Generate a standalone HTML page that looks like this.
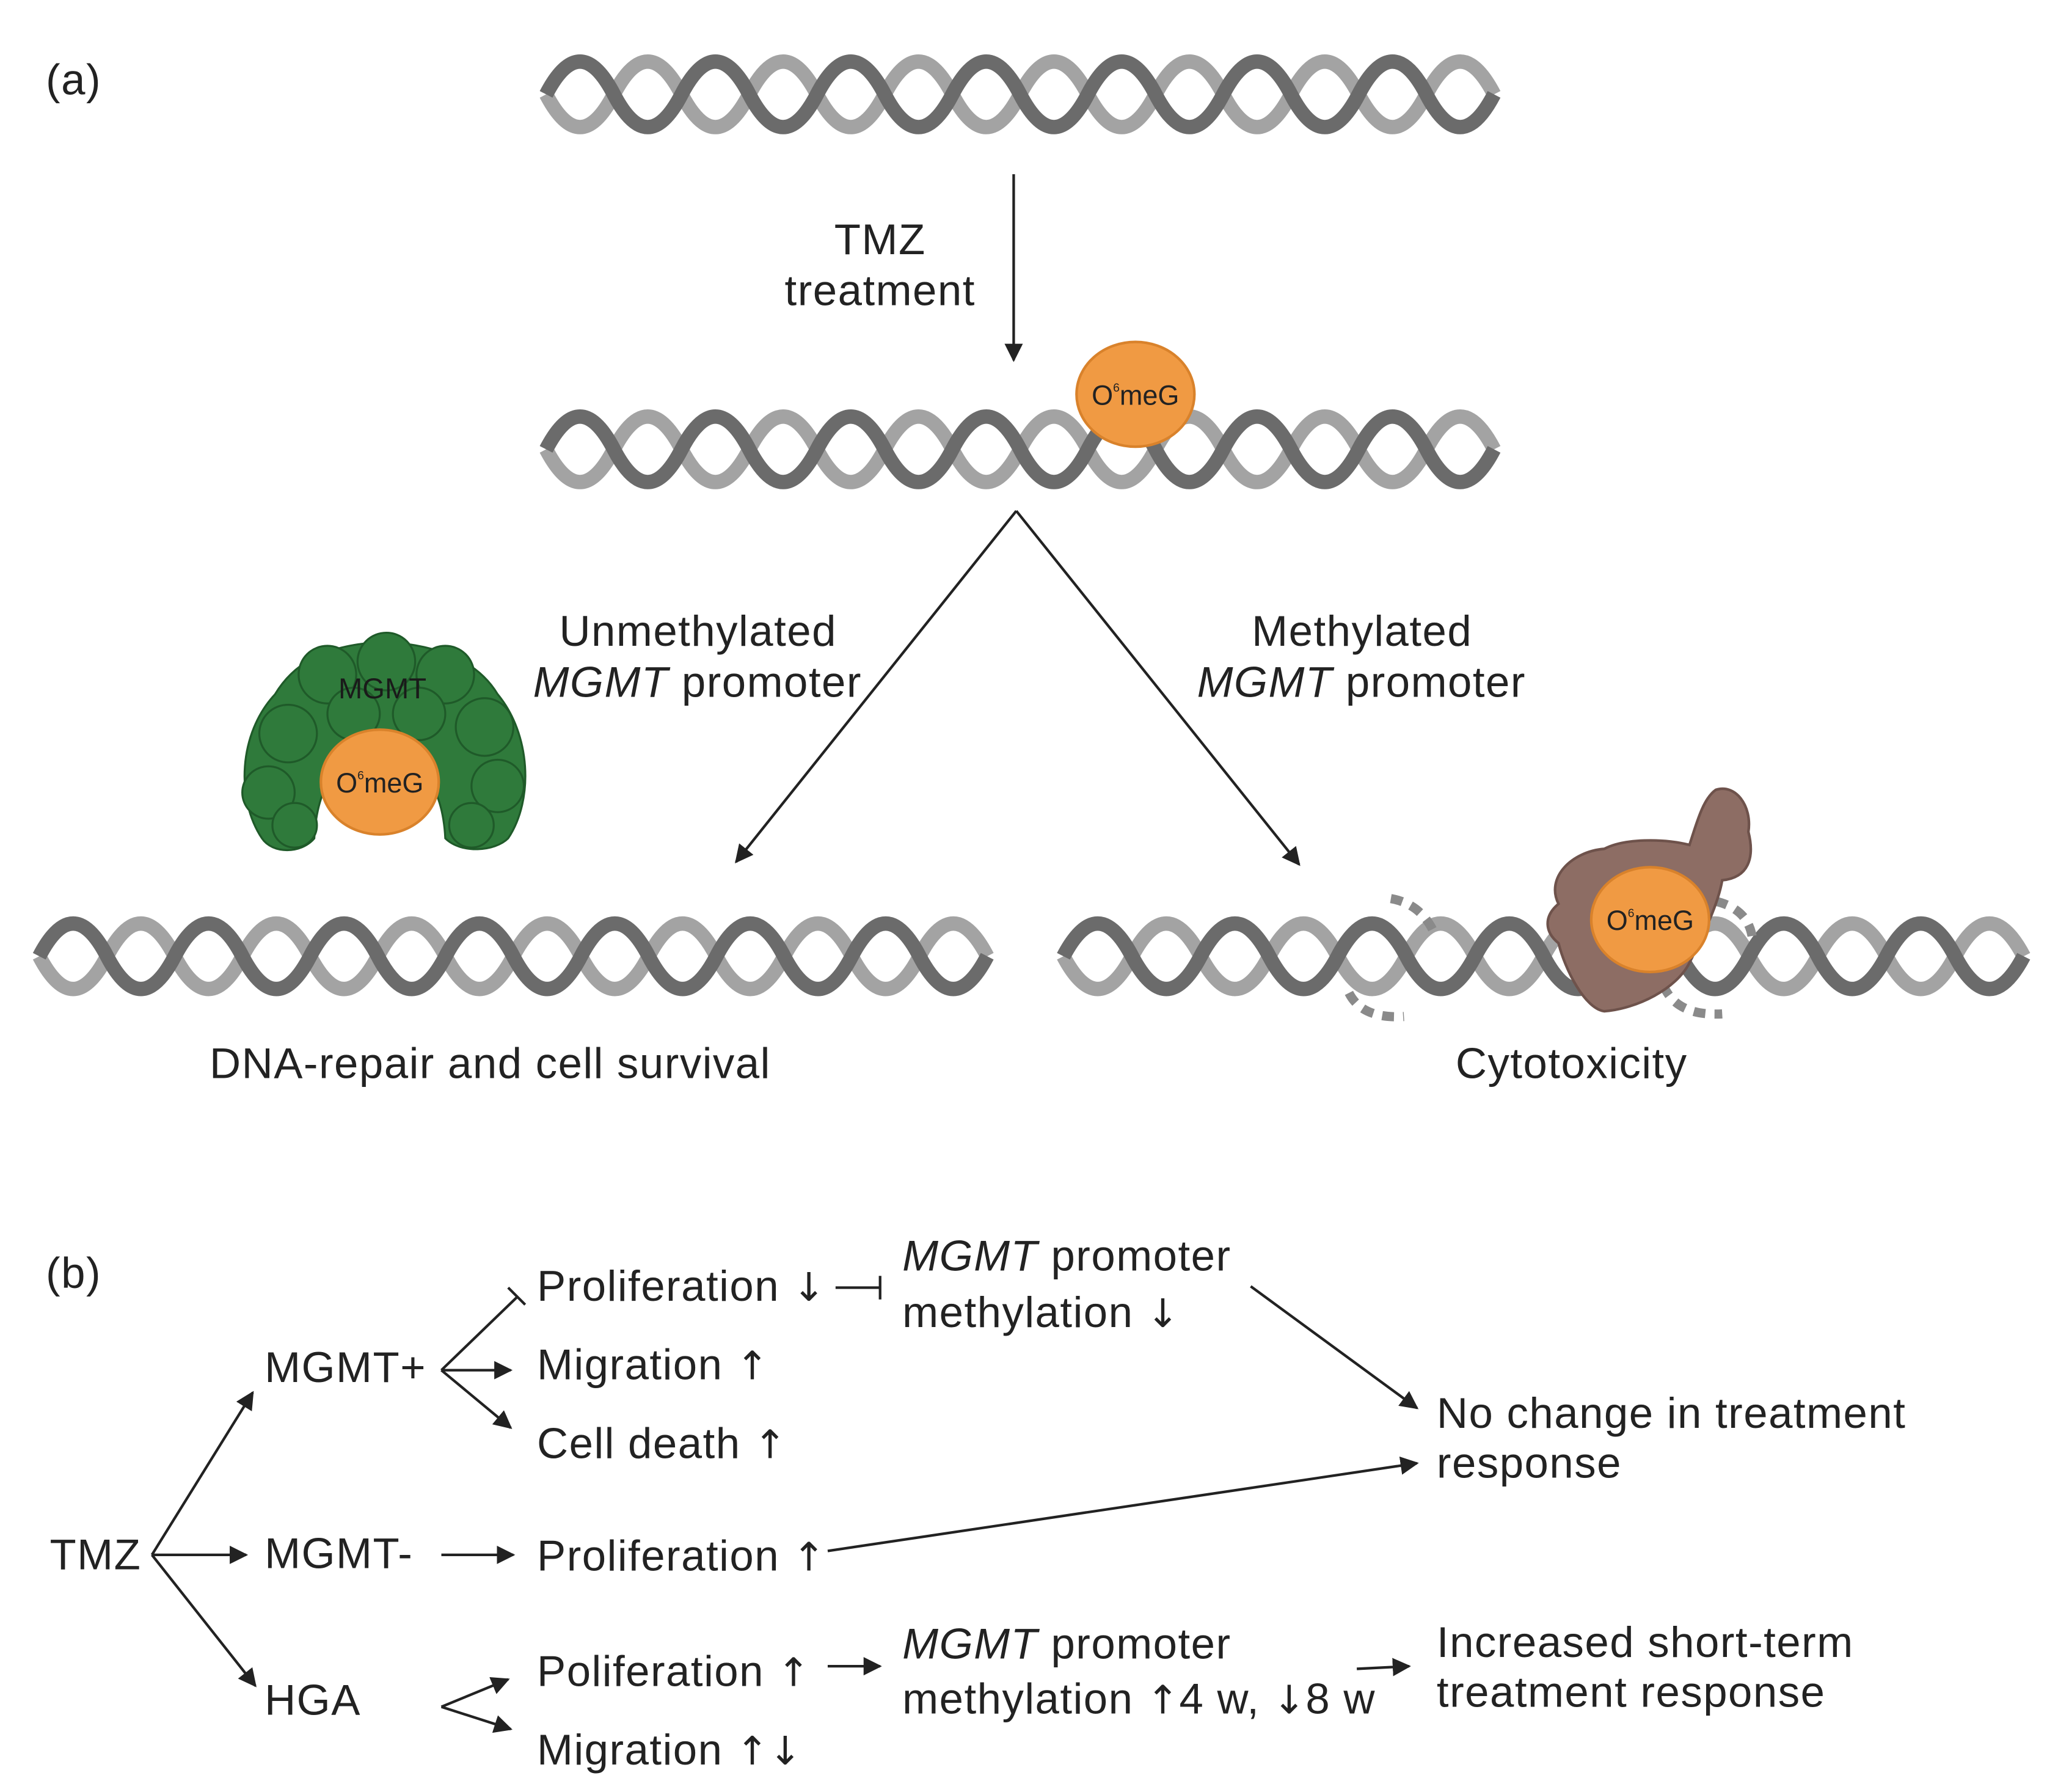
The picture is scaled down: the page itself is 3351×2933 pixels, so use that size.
<!DOCTYPE html>
<html><head><meta charset="utf-8">
<style>
html,body{margin:0;padding:0;background:#fff;}
svg{display:block;}
text{font-family:"Liberation Sans",Arial,sans-serif;fill:#222;}
.t{font-size:33px;letter-spacing:0.7px;}
.ar{font-family:"DejaVu Sans",sans-serif;font-size:30px;letter-spacing:0;}
</style></head>
<body>
<svg width="3351" height="2933" viewBox="0 0 1563 1368" xmlns="http://www.w3.org/2000/svg">
<defs>
<g id="helix" fill="none" stroke-width="11">
<path stroke="#a3a3a3" d="M0,0 Q25.85,50 51.7,0 T103.4,0 T155.1,0 T206.8,0 T258.5,0 T310.2,0 T361.9,0 T413.6,0 T465.3,0 T517,0 T568.7,0 T620.4,0 T672.1,0 T723.8,0"/>
<path stroke="#6b6b6b" d="M0,0 Q25.85,-50 51.7,0 T103.4,0 T155.1,0 T206.8,0 T258.5,0 T310.2,0 T361.9,0 T413.6,0 T465.3,0 T517,0 T568.7,0 T620.4,0 T672.1,0 T723.8,0"/>
</g>
<marker id="ah" viewBox="0 0 10 10" refX="9" refY="5" markerWidth="7" markerHeight="7" orient="auto"><path d="M0,0 L10,5 L0,10 z" fill="#222"/></marker>
</defs>

<text x="35" y="72" class="t">(a)</text>
<use href="#helix" transform="translate(417,72)"/>
<line x1="774" y1="133" x2="774" y2="275" stroke="#222" stroke-width="2" marker-end="url(#ah)"/>
<text x="672" y="194" class="t" text-anchor="middle">TMZ</text>
<text x="672" y="233" class="t" text-anchor="middle">treatment</text>
<use href="#helix" transform="translate(417,343)"/>
<ellipse cx="867" cy="301" rx="45" ry="40" fill="#f09a43" stroke="#d9822b" stroke-width="2"/>
<text x="867" y="309" font-size="21" text-anchor="middle">O<tspan font-size="9" dy="-10">6</tspan><tspan dy="10">meG</tspan></text>

<line x1="776" y1="390" x2="562" y2="658" stroke="#222" stroke-width="2" marker-end="url(#ah)"/>
<line x1="776" y1="390" x2="992" y2="660" stroke="#222" stroke-width="2" marker-end="url(#ah)"/>
<text x="533" y="493" class="t" text-anchor="middle">Unmethylated</text>
<text x="407" y="532" class="t"><tspan font-style="italic">MGMT</tspan> promoter</text>
<text x="1040" y="493" class="t" text-anchor="middle">Methylated</text>
<text x="914" y="532" class="t"><tspan font-style="italic">MGMT</tspan> promoter</text>

<g fill="#2f7a3b" stroke="#1f5a29" stroke-width="1.5">
<path d="M200,640 C180,610 182,560 210,530 C225,505 250,492 293,490 C335,492 365,505 380,530 C405,560 408,610 388,640 C378,650 352,652 340,640 C338,600 320,575 290,575 C258,575 242,600 240,640 C230,652 208,652 200,640 Z"/>
<circle cx="220" cy="560" r="22"/><circle cx="250" cy="515" r="22"/><circle cx="295" cy="505" r="22"/>
<circle cx="340" cy="515" r="22"/><circle cx="370" cy="555" r="22"/><circle cx="380" cy="600" r="20"/>
<circle cx="205" cy="605" r="20"/><circle cx="225" cy="630" r="17"/><circle cx="360" cy="630" r="17"/>
<circle cx="270" cy="545" r="20"/><circle cx="320" cy="545" r="20"/>
</g>
<text x="292" y="533" font-size="22" text-anchor="middle" style="fill:#1a1a1a">MGMT</text>
<ellipse cx="290" cy="597" rx="45" ry="40" fill="#f09a43" stroke="#d9822b" stroke-width="2"/>
<text x="290" y="605" font-size="21" text-anchor="middle">O<tspan font-size="9" dy="-10">6</tspan><tspan dy="10">meG</tspan></text>

<use href="#helix" transform="translate(30,730)"/>
<use href="#helix" transform="translate(812,730) scale(1.013,1)"/>
<g stroke="#8a8a8a" stroke-width="7" stroke-dasharray="9,7" fill="none">
<path d="M1062,686 Q1085,690 1095,712"/>
<path d="M1030,758 Q1040,778 1072,776"/>
<path d="M1270,752 Q1280,776 1315,774"/>
<path d="M1310,688 Q1335,694 1338,716"/>
</g>
<path d="M1190,690 C1180,670 1200,650 1225,648 C1240,640 1270,640 1290,645 C1295,630 1300,610 1310,603 C1325,598 1338,615 1335,635 C1340,655 1335,670 1315,672 C1312,690 1300,715 1290,735 C1280,755 1250,770 1225,772 C1210,770 1195,740 1190,720 C1180,712 1178,700 1190,690 Z" fill="#8d6d64" stroke="#6e524b" stroke-width="2"/>
<ellipse cx="1260" cy="702" rx="45" ry="40" fill="#f09a43" stroke="#d9822b" stroke-width="2"/>
<text x="1260" y="710" font-size="21" text-anchor="middle">O<tspan font-size="9" dy="-10">6</tspan><tspan dy="10">meG</tspan></text>

<text x="160" y="823" class="t">DNA-repair and cell survival</text>
<text x="1200" y="823" class="t" text-anchor="middle">Cytotoxicity</text>

<text x="35" y="983" class="t">(b)</text>
<text x="410" y="993" class="t">Proliferation <tspan class="ar">↓</tspan></text>
<text x="689" y="970" class="t"><tspan font-style="italic">MGMT</tspan> promoter</text>
<text x="689" y="1013" class="t">methylation <tspan class="ar">↓</tspan></text>
<text x="202" y="1055" class="t">MGMT+</text>
<text x="410" y="1053" class="t">Migration <tspan class="ar">↑</tspan></text>
<text x="410" y="1113" class="t">Cell death <tspan class="ar">↑</tspan></text>
<text x="38" y="1198" class="t">TMZ</text>
<text x="202" y="1197" class="t">MGMT-</text>
<text x="410" y="1199" class="t">Proliferation <tspan class="ar">↑</tspan></text>
<text x="202" y="1309" class="t">HGA</text>
<text x="410" y="1287" class="t">Poliferation <tspan class="ar">↑</tspan></text>
<text x="410" y="1347" class="t">Migration <tspan class="ar">↑↓</tspan></text>
<text x="689" y="1266" class="t"><tspan font-style="italic">MGMT</tspan> promoter</text>
<text x="689" y="1308" class="t">methylation <tspan class="ar">↑</tspan>4 w, <tspan class="ar">↓</tspan>8 w</text>
<text x="1097" y="1090" class="t">No change in treatment</text>
<text x="1097" y="1128" class="t">response</text>
<text x="1097" y="1265" class="t">Increased short-term</text>
<text x="1097" y="1303" class="t">treatment response</text>
<g stroke="#222" stroke-width="2" fill="none">
<line x1="116" y1="1187" x2="193" y2="1063" marker-end="url(#ah)"/>
<line x1="116" y1="1187" x2="188" y2="1187" marker-end="url(#ah)"/>
<line x1="116" y1="1187" x2="195" y2="1287" marker-end="url(#ah)"/>
<line x1="337" y1="1046" x2="395" y2="990"/>
<line x1="388" y1="983" x2="401" y2="996"/>
<line x1="337" y1="1046" x2="390" y2="1046" marker-end="url(#ah)"/>
<line x1="337" y1="1046" x2="390" y2="1090" marker-end="url(#ah)"/>
<line x1="638" y1="983" x2="672" y2="983"/>
<line x1="672" y1="974" x2="672" y2="992"/>
<line x1="337" y1="1187" x2="392" y2="1187" marker-end="url(#ah)"/>
<line x1="632" y1="1184" x2="1082" y2="1117" marker-end="url(#ah)"/>
<line x1="955" y1="982" x2="1082" y2="1075" marker-end="url(#ah)"/>
<line x1="337" y1="1303" x2="388" y2="1282" marker-end="url(#ah)"/>
<line x1="337" y1="1303" x2="390" y2="1320" marker-end="url(#ah)"/>
<line x1="632" y1="1272" x2="672" y2="1272" marker-end="url(#ah)"/>
<line x1="1036" y1="1274" x2="1076" y2="1272" marker-end="url(#ah)"/>
</g>
</svg>
</body></html>
